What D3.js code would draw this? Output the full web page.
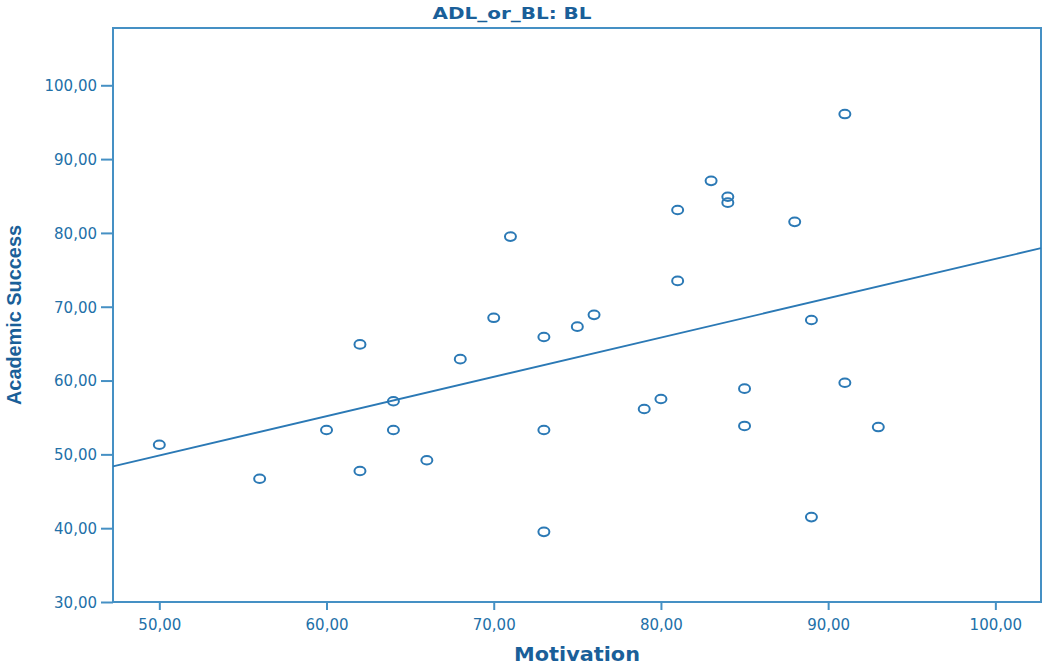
<!DOCTYPE html>
<html>
<head>
<meta charset="utf-8">
<script src="https://cdn.jsdelivr.net/npm/d3@7"></script>
<style>
  html, body { margin: 0; padding: 0; background: #ffffff; }
  svg { display: block; }
</style>
</head>
<body>
<svg id="chart" width="1043" height="667"></svg>
<script>
// ---- data ----
const chartTitle = "ADL_or_BL: BL";
const xTitle = "Motivation";
const yTitle = "Academic Success";
const motivation = [50, 56, 60, 62, 62, 64, 64, 66, 68, 70, 71, 73, 73, 73, 75, 76, 79, 80, 81, 81, 83, 84, 84, 85, 85, 88, 89, 89, 91, 91, 93];
const academicSuccess = [51.3, 46.7, 53.3, 64.9, 47.75, 57.2, 53.3, 49.2, 62.9, 68.5, 79.5, 65.9, 53.3, 39.5, 67.3, 68.9, 56.15, 57.5, 83.1, 73.5, 87.05, 84.9, 84.1, 58.9, 53.85, 81.5, 68.2, 41.5, 96.1, 59.7, 53.7];
const xTicks = [50, 60, 70, 80, 90, 100];
const yTicks = [30, 40, 50, 60, 70, 80, 90, 100];
const xDomain = [47.23, 102.73];
const yDomain = [30, 107.76];

// ---- layout ----
const plot = { left: 113, top: 28, right: 1041, bottom: 602 };
const labelColor = "#2270a8";
const titleColor = "#1a5f99";
const axisColor = "#4590c4";
const markColor = "#2b79b5";

const svg = d3.select("#chart");
const x = d3.scaleLinear().domain(xDomain).range([plot.left, plot.right]);
const y = d3.scaleLinear().domain(yDomain).range([plot.bottom, plot.top]);
const fmt = v => d3.format(".2f")(v).replace(".", ",");

// x axis
const gx = svg.append("g").attr("transform", `translate(0,${plot.bottom})`)
  .call(d3.axisBottom(x).tickValues(xTicks).tickFormat(fmt).tickSize(8).tickSizeOuter(0).tickPadding(6));
// y axis
const gy = svg.append("g").attr("transform", `translate(${plot.left},0)`)
  .call(d3.axisLeft(y).tickValues(yTicks).tickFormat(fmt).tickSize(12).tickSizeOuter(0).tickPadding(4));

[gx, gy].forEach(g => {
  g.select(".domain").remove();
  g.selectAll(".tick line").attr("stroke", axisColor).attr("stroke-width", 2);
  g.selectAll(".tick text").attr("fill", labelColor)
    .style("font-family", "'DejaVu Sans', Verdana, sans-serif").style("font-size", "15px");
});
gx.selectAll(".tick text").attr("dy", "0.95em");
gy.selectAll(".tick text").attr("dy", "0.36em");

// frame
svg.append("rect")
  .attr("x", plot.left).attr("y", plot.top)
  .attr("width", plot.right - plot.left).attr("height", plot.bottom - plot.top)
  .attr("fill", "none").attr("stroke", axisColor).attr("stroke-width", 2);

// regression line (least squares fit of the data)
const n = motivation.length;
const mx = d3.mean(motivation), my = d3.mean(academicSuccess);
let sxy = 0, sxx = 0;
for (let i = 0; i < n; i++) {
  sxy += (motivation[i] - mx) * (academicSuccess[i] - my);
  sxx += (motivation[i] - mx) ** 2;
}
const slope = sxy / sxx, intercept = my - slope * mx;
svg.append("line")
  .attr("x1", x(xDomain[0])).attr("y1", y(intercept + slope * xDomain[0]))
  .attr("x2", x(xDomain[1])).attr("y2", y(intercept + slope * xDomain[1]))
  .attr("stroke", markColor).attr("stroke-width", 1.8);

// points
svg.append("g").selectAll("ellipse")
  .data(motivation.map((m, i) => [m, academicSuccess[i]]))
  .join("ellipse")
  .attr("cx", d => x(d[0])).attr("cy", d => y(d[1]))
  .attr("rx", 5.5).attr("ry", 4.3)
  .attr("fill", "none").attr("stroke", markColor).attr("stroke-width", 2);

// titles
svg.append("text").text(chartTitle)
  .attr("x", 512).attr("y", 19).attr("text-anchor", "middle")
  .attr("textLength", 159).attr("lengthAdjust", "spacingAndGlyphs")
  .attr("fill", titleColor).style("font-family", "'DejaVu Sans', Arial, sans-serif")
  .style("font-weight", "bold").style("font-size", "16px");

svg.append("text").text(xTitle)
  .attr("x", 577).attr("y", 661).attr("text-anchor", "middle")
  .attr("textLength", 126).attr("lengthAdjust", "spacingAndGlyphs")
  .attr("fill", titleColor).style("font-family", "'DejaVu Sans', Arial, sans-serif")
  .style("font-weight", "bold").style("font-size", "20px");

svg.append("text").text(yTitle)
  .attr("transform", "translate(21,315) rotate(-90)")
  .attr("text-anchor", "middle")
  .attr("textLength", 180).attr("lengthAdjust", "spacingAndGlyphs")
  .attr("fill", titleColor).style("font-family", "'Liberation Sans', Arial, sans-serif")
  .style("font-weight", "bold").style("font-size", "20px");
</script>
</body>
</html>
